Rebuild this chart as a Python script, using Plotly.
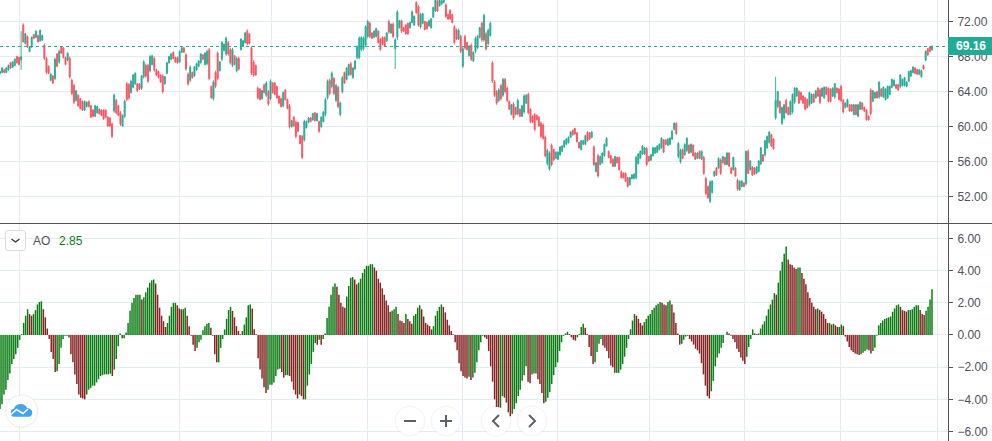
import plotly.graph_objects as go

# price bars
highs = [
    66.4, 66.8, 66.6, 66.8, 67.1, 67.4, 67.5, 67.8, 68.1, 68.0,
    70.9, 71.8, 70.7, 70.4, 69.2, 70.3, 70.6, 71.0, 70.5, 71.1,
    70.5, 69.5, 68.0, 67.0, 66.1, 65.9, 67.9, 68.4, 68.8, 69.2,
    69.1, 68.0, 68.5, 68.0, 65.5, 64.9, 64.2, 63.7, 63.3, 63.0,
    63.0, 62.9, 63.0, 62.5, 62.0, 62.5, 62.4, 62.1, 62.0, 62.0,
    62.0, 61.2, 61.1, 60.5, 63.8, 63.2, 62.5, 61.8, 61.4, 63.1,
    65.1, 65.0, 65.3, 66.0, 66.2, 65.0, 65.0, 65.9, 67.6, 67.2,
    67.2, 68.2, 68.2, 68.0, 66.6, 66.4, 66.0, 66.0, 65.8, 67.4,
    68.1, 68.4, 68.6, 68.0, 68.0, 68.7, 69.1, 69.1, 68.4, 66.2,
    67.0, 66.3, 66.9, 67.3, 67.6, 68.4, 68.3, 68.5, 68.8, 69.0,
    64.7, 65.3, 66.4, 68.6, 67.5, 69.8, 69.5, 70.3, 69.8, 69.0,
    69.0, 68.2, 68.0, 68.0, 70.1, 69.9, 70.8, 71.1, 70.7, 69.2,
    67.6, 67.1, 64.6, 64.4, 64.2, 64.9, 65.2, 64.2, 65.4, 65.1,
    65.1, 64.7, 63.6, 63.3, 64.0, 64.3, 63.2, 62.6, 60.8, 61.2,
    60.7, 60.6, 59.1, 59.1, 60.8, 60.7, 61.1, 61.1, 61.6, 61.7,
    61.6, 60.7, 61.2, 61.8, 63.3, 65.4, 65.5, 66.3, 65.7, 64.9,
    64.7, 62.9, 65.8, 66.3, 66.8, 67.2, 67.4, 66.8, 67.6, 69.3,
    70.3, 70.3, 70.3, 71.6, 72.2, 72.0, 70.8, 71.0, 71.3, 71.0,
    70.1, 70.3, 70.3, 70.8, 72.2, 71.8, 71.9, 70.1, 73.3, 72.2,
    72.2, 71.4, 71.7, 71.9, 72.0, 73.3, 72.7, 74.3, 73.9, 73.0,
    73.0, 72.1, 72.0, 72.2, 72.4, 73.7, 74.5, 74.5, 74.5, 74.5,
    74.5, 74.1, 72.9, 73.4, 72.9, 71.6, 71.2, 71.2, 70.5, 69.1,
    70.5, 69.7, 69.3, 69.5, 68.6, 70.3, 70.5, 71.4, 72.0, 72.9,
    70.8, 71.2, 72.0, 67.5, 65.3, 64.2, 64.4, 64.9, 65.6,
    65.6, 64.6, 63.0, 62.6, 62.8, 62.3, 63.2, 62.1, 62.5, 63.7,
    63.7, 63.9, 62.1, 61.3, 61.6, 61.4, 61.2, 60.6, 60.4,
    59.0, 57.5, 57.2, 58.1, 57.5, 57.2, 57.2, 57.8, 57.9,
    58.5, 58.7, 58.9, 59.5, 59.7, 59.9, 59.4, 58.3, 58.5,
    58.5, 59.1, 59.5, 59.4, 59.5, 57.9, 56.0, 56.9, 56.7, 57.1,
    58.1, 58.8, 57.3, 56.8, 56.4, 56.7, 56.6, 56.6, 55.0, 54.8,
    54.8, 54.3, 54.3, 54.6, 54.7, 56.7, 57.0, 57.3, 57.9, 57.7,
    57.7, 56.7, 56.9, 57.7, 57.7, 57.9, 58.1, 58.8, 58.6, 58.6,
    58.7, 58.8, 59.6, 60.5, 60.5, 58.3, 57.5, 57.5, 58.1, 58.8,
    58.0, 58.1, 58.0, 57.1, 57.1, 57.3, 57.3, 56.7, 54.3, 53.3,
    53.9, 53.9, 55.0, 55.4, 56.5, 56.4, 56.7, 56.6, 57.1, 57.1,
    55.4, 56.6, 55.4, 54.1, 53.9, 53.9, 53.7, 57.3, 57.4, 56.2,
    55.5, 55.4, 55.5, 56.2, 57.7, 56.9, 58.5, 59.0, 59.5, 59.2,
    58.7, 65.7, 64.1, 63.0, 62.3, 62.6, 63.2, 62.3, 63.0, 63.8,
    64.5, 64.5, 64.2, 64.0, 63.6, 63.4, 63.2, 64.0, 63.8, 63.8,
    64.2, 64.5, 64.4, 64.5, 64.6, 64.6, 64.5, 64.4, 64.5, 65.0, 64.5,
    64.4, 64.8, 63.2, 62.8, 63.2, 62.6, 62.6, 62.6, 62.6, 62.6, 62.9,
    62.8, 62.3, 62.0, 61.3, 64.4, 64.2, 64.0, 64.1, 65.2, 64.4,
    64.6, 64.4, 64.7, 64.7, 65.5, 65.4, 64.9, 64.9, 66.0, 65.5, 65.7,
    65.2, 66.4, 66.5, 66.9, 66.8, 66.6, 66.6, 66.5, 67.1, 68.7, 69.0,
    69.2, 69.3,
]
lows = [
    66.0, 66.1, 66.1, 66.1, 66.4, 66.6, 66.7, 66.9, 67.2, 67.0,
    66.5, 69.6, 69.4, 69.0, 68.5, 69.0, 70.0, 70.1, 69.6, 69.7,
    69.8, 67.6, 66.0, 66.0, 65.2, 64.9, 65.3, 66.8, 67.2, 68.3,
    67.8, 67.0, 67.5, 65.5, 63.6, 62.6, 62.9, 62.3, 62.0, 61.8,
    61.8, 62.2, 62.2, 61.0, 61.1, 61.1, 61.5, 61.4, 61.2, 60.8,
    61.0, 60.0, 60.0, 58.7, 61.6, 61.4, 61.2, 60.1, 60.0, 61.0,
    62.9, 63.1, 63.8, 64.4, 64.8, 64.0, 64.2, 64.2, 65.5, 65.6,
    65.0, 66.2, 67.0, 66.3, 65.8, 65.5, 65.0, 63.8, 64.8, 66.0,
    67.2, 67.6, 67.7, 67.3, 67.2, 67.3, 68.4, 68.4, 66.4, 64.7,
    65.1, 65.5, 65.7, 66.4, 66.8, 67.2, 67.6, 67.0, 67.0, 65.3,
    63.2, 63.0, 64.4, 65.3, 66.3, 67.5, 68.6, 68.1, 68.1, 67.1,
    66.8, 67.0, 66.2, 66.4, 68.7, 69.1, 69.5, 69.3, 69.4, 65.9,
    65.7, 65.8, 63.1, 63.0, 63.1, 63.8, 63.4, 62.4, 63.0, 63.8,
    63.6, 63.2, 62.6, 62.2, 62.2, 63.0, 62.0, 59.8, 59.9, 60.0,
    58.7, 59.4, 58.0, 56.3, 58.3, 59.8, 60.4, 60.5, 60.7, 60.6,
    60.6, 59.3, 59.9, 60.5, 61.2, 63.1, 63.6, 64.4, 63.6, 62.8,
    62.1, 61.2, 63.8, 64.9, 65.3, 65.8, 65.8, 65.5, 66.5, 67.7,
    67.7, 68.6, 68.7, 69.1, 70.1, 70.1, 70.0, 70.1, 70.2, 69.5,
    68.7, 69.3, 69.1, 69.7, 70.6, 70.6, 70.1, 66.6, 69.9, 71.2,
    70.7, 70.8, 70.5, 70.5, 71.2, 71.8, 71.5, 72.9, 71.4, 71.2,
    71.7, 71.0, 71.1, 71.4, 71.2, 72.4, 73.1, 73.1, 73.7, 73.9,
    74.1, 72.4, 72.2, 72.2, 71.8, 69.4, 69.9, 69.9, 68.4, 66.7,
    68.8, 68.7, 68.0, 67.5, 67.4, 68.4, 68.9, 70.1, 69.7, 69.7,
    68.7, 69.3, 70.3, 65.0, 63.4, 62.5, 62.8, 63.0, 63.4,
    63.8, 62.8, 61.9, 61.3, 60.8, 61.3, 61.3, 61.1, 61.1, 61.5,
    62.6, 61.4, 60.4, 60.4, 59.5, 60.7, 60.0, 58.7, 58.5,
    56.5, 55.6, 55.0, 55.5, 56.1, 56.3, 56.2, 56.7, 57.1,
    57.6, 57.9, 58.1, 58.7, 59.0, 59.1, 58.2, 57.5, 57.3,
    57.9, 57.9, 58.3, 58.5, 58.7, 55.5, 54.8, 54.2, 55.6, 55.8,
    56.6, 57.7, 56.4, 55.8, 55.4, 55.4, 55.8, 55.0, 54.1, 54.1,
    53.7, 53.1, 53.3, 54.0, 54.0, 54.0, 55.7, 56.3, 56.8, 56.8,
    55.5, 56.0, 56.1, 56.6, 56.9, 57.0, 57.3, 57.5, 57.0, 57.9,
    57.8, 57.9, 58.5, 59.6, 59.1, 56.4, 55.8, 56.3, 56.7, 57.1,
    56.9, 57.0, 56.6, 56.2, 56.3, 56.3, 56.2, 54.5, 52.2, 51.8,
    51.3, 52.4, 54.3, 54.4, 55.2, 54.5, 55.8, 55.6, 55.6, 55.4,
    54.6, 55.0, 54.3, 52.7, 52.7, 53.1, 53.1, 53.3, 54.6, 55.0,
    54.4, 54.5, 54.6, 54.8, 55.6, 56.0, 56.6, 57.5, 58.1, 57.7,
    57.4, 60.8, 62.1, 61.5, 60.2, 60.8, 61.5, 61.3, 61.3, 61.5,
    62.6, 63.4, 62.6, 63.0, 62.6, 61.9, 62.1, 62.3, 62.6, 62.7,
    63.2, 63.4, 62.6, 63.4, 63.2, 63.6, 62.8, 62.8, 63.4, 63.2, 63.8,
    63.0, 62.8, 61.5, 62.1, 62.2, 61.7, 61.7, 61.3, 61.3, 61.1, 61.9,
    61.9, 61.7, 60.7, 60.7, 61.3, 62.8, 63.2, 63.2, 63.2, 63.4,
    63.3, 63.0, 63.2, 63.6, 64.4, 64.6, 64.3, 64.1, 64.4, 64.6, 64.6,
    64.5, 65.1, 65.7, 66.1, 66.0, 65.9, 65.9, 65.6, 66.5, 67.5, 68.1,
    68.5, 68.7,
]
opens = [
    66.1, 66.2, 66.5, 66.2, 66.5, 67.3, 66.8, 67.0, 68.0, 67.9,
    67.6, 71.6, 69.5, 70.3, 68.6, 69.1, 70.5, 70.2, 70.4, 69.8,
    69.9, 69.3, 67.8, 66.9, 65.3, 65.8, 65.5, 68.3, 67.4, 69.1,
    69.0, 67.9, 67.6, 67.8, 65.3, 64.7, 63.0, 63.6, 63.2, 62.9,
    61.9, 62.3, 62.9, 62.4, 61.9, 61.2, 61.6, 62.0, 61.9, 61.9,
    61.9, 61.1, 61.0, 60.3, 61.8, 63.0, 62.4, 61.6, 60.1, 61.2,
    64.9, 64.8, 63.9, 64.5, 64.9, 64.9, 64.9, 64.4, 65.7, 67.0,
    67.0, 66.4, 67.1, 67.8, 66.5, 66.3, 65.9, 65.8, 64.9, 66.1,
    67.3, 67.7, 68.5, 67.9, 67.9, 67.4, 68.5, 69.0, 68.2, 66.0,
    65.3, 66.2, 65.8, 66.5, 66.9, 67.3, 68.2, 67.1, 67.2, 68.8,
    64.6, 63.2, 66.2, 68.4, 66.4, 67.7, 68.7, 68.3, 69.6, 68.8,
    67.0, 68.1, 66.4, 67.8, 68.8, 69.2, 69.6, 70.9, 70.6, 69.0,
    67.4, 67.0, 64.4, 64.3, 63.2, 64.8, 63.6, 64.0, 63.2, 65.0,
    65.0, 64.6, 63.5, 63.2, 62.4, 64.2, 63.1, 62.4, 60.0, 61.1,
    60.5, 60.5, 59.0, 58.9, 58.5, 59.9, 60.5, 61.0, 60.8, 61.6,
    60.7, 60.6, 60.0, 60.6, 61.4, 63.3, 65.3, 64.6, 65.5, 63.0,
    64.5, 61.4, 64.0, 66.2, 65.4, 65.9, 67.2, 65.6, 66.6, 67.9,
    67.9, 68.8, 68.9, 69.3, 70.3, 71.8, 70.7, 70.2, 70.3, 70.9,
    70.0, 70.2, 70.2, 69.8, 72.0, 70.7, 71.7, 68.9, 70.2, 71.3,
    72.1, 71.3, 71.6, 71.8, 71.3, 71.9, 71.6, 74.2, 73.7, 71.4,
    71.8, 72.0, 71.9, 71.5, 71.3, 72.5, 73.2, 74.4, 73.8, 74.0,
    74.2, 73.9, 72.8, 73.3, 72.8, 71.4, 71.1, 70.0, 70.3, 66.9,
    70.3, 69.6, 68.1, 69.3, 67.5, 68.6, 69.0, 70.2, 71.8, 69.9,
    70.6, 69.5, 70.4, 67.3, 65.1, 64.0, 63.0, 64.7, 63.6,
    65.4, 64.4, 62.9, 61.4, 62.6, 62.2, 61.5, 62.0, 61.2, 61.7,
    62.7, 63.7, 62.0, 61.2, 61.4, 61.3, 61.1, 60.4, 60.2,
    58.8, 55.8, 55.2, 57.9, 57.4, 56.4, 56.3, 56.8, 57.2,
    57.7, 58.0, 58.2, 58.8, 59.6, 59.8, 59.3, 58.2, 57.4,
    58.0, 58.0, 59.4, 59.3, 58.8, 57.7, 54.9, 56.7, 55.7, 55.9,
    56.7, 57.8, 57.2, 56.7, 56.3, 55.5, 56.5, 56.5, 54.9, 54.7,
    54.7, 54.2, 53.4, 54.1, 54.1, 54.2, 55.8, 56.4, 56.9, 56.9,
    57.5, 56.6, 56.2, 56.7, 57.0, 57.1, 57.4, 57.6, 58.5, 58.5,
    57.9, 58.0, 58.6, 59.7, 60.4, 56.6, 56.0, 57.4, 56.8, 57.3,
    57.9, 57.1, 57.9, 57.0, 56.4, 57.2, 56.3, 56.5, 54.1, 53.2,
    51.5, 52.5, 54.4, 55.3, 55.3, 56.2, 55.9, 56.5, 55.7, 57.0,
    55.3, 55.1, 55.3, 53.9, 52.8, 53.2, 53.6, 53.5, 57.2, 55.1,
    55.4, 55.3, 54.7, 54.9, 55.8, 56.8, 56.8, 57.6, 58.2, 59.1,
    58.6, 61.0, 62.3, 62.9, 60.4, 61.0, 63.0, 62.2, 61.4, 61.7,
    62.8, 63.5, 64.0, 63.9, 63.5, 63.3, 63.1, 62.5, 62.7, 63.7,
    63.3, 64.4, 64.2, 63.5, 63.3, 64.5, 64.4, 64.3, 63.5, 63.4, 64.4,
    64.3, 64.6, 63.0, 62.2, 62.3, 62.5, 62.5, 61.4, 62.5, 61.2, 62.0,
    62.7, 62.2, 61.9, 61.2, 64.2, 62.9, 63.3, 64.0, 63.4, 64.3,
    63.4, 63.1, 63.3, 63.7, 64.5, 64.7, 64.8, 64.8, 64.6, 64.7, 64.7,
    64.6, 65.2, 65.8, 66.2, 66.7, 66.5, 66.0, 65.7, 67.0, 67.6, 68.9,
    69.1, 68.8,
]
closes = [
    66.3, 66.7, 66.2, 66.7, 67.0, 66.7, 67.4, 67.7, 67.3, 67.1,
    68.0, 69.7, 70.6, 69.1, 69.1, 70.2, 70.1, 70.9, 69.7, 71.0,
    70.4, 67.8, 66.2, 66.1, 66.0, 65.0, 67.7, 66.9, 68.6, 68.4,
    67.9, 67.1, 68.4, 65.7, 63.8, 62.8, 64.1, 62.4, 62.1, 61.9,
    62.9, 62.8, 62.3, 61.1, 61.2, 62.4, 62.3, 61.5, 61.3, 60.9,
    61.1, 60.1, 60.1, 58.9, 63.6, 61.6, 61.3, 60.3, 61.3, 62.9,
    63.1, 63.3, 65.2, 65.9, 66.1, 64.1, 64.3, 65.8, 67.4, 65.8,
    65.2, 68.0, 68.1, 66.5, 65.9, 65.6, 65.1, 64.0, 65.7, 67.3,
    68.0, 68.3, 67.8, 67.4, 67.3, 68.6, 69.0, 68.5, 66.6, 64.9,
    66.8, 65.6, 66.8, 67.2, 67.5, 68.3, 67.7, 68.4, 68.6, 65.5,
    63.3, 65.1, 64.6, 65.5, 67.4, 69.6, 69.4, 70.1, 68.3, 67.3,
    68.8, 67.1, 67.8, 66.6, 70.0, 69.8, 70.7, 69.5, 69.5, 66.1,
    65.9, 65.9, 63.3, 63.1, 64.1, 63.9, 65.0, 62.6, 65.2, 63.9,
    63.7, 63.3, 62.7, 62.3, 63.9, 63.1, 62.1, 60.0, 60.7, 60.1,
    58.9, 59.5, 58.1, 56.5, 60.6, 60.6, 61.0, 60.6, 61.5, 60.7,
    61.5, 59.5, 61.1, 61.7, 63.1, 65.2, 63.8, 66.1, 63.8, 64.7,
    62.3, 62.7, 65.6, 65.0, 66.7, 67.1, 66.0, 66.7, 67.5, 69.1,
    70.1, 70.2, 70.1, 71.4, 72.0, 70.3, 70.1, 70.9, 71.2, 69.6,
    68.8, 69.4, 69.2, 70.7, 70.8, 71.7, 70.3, 69.9, 73.1, 72.1,
    70.9, 70.9, 70.6, 70.6, 71.9, 73.1, 72.6, 73.0, 71.6, 72.8,
    72.9, 71.1, 71.2, 72.1, 72.3, 73.6, 74.4, 73.2, 74.4, 74.4,
    74.4, 72.6, 72.3, 72.3, 71.9, 69.6, 70.0, 71.0, 68.6, 68.9,
    69.0, 68.8, 69.2, 67.7, 68.5, 70.1, 70.3, 71.3, 69.9, 72.7,
    68.9, 71.0, 71.8, 65.2, 63.6, 62.7, 64.2, 63.2, 65.4,
    64.0, 63.0, 62.0, 62.5, 61.0, 61.4, 63.0, 61.2, 62.4, 63.5,
    63.6, 61.6, 60.6, 60.5, 59.7, 60.8, 60.1, 58.9, 58.7,
    56.7, 57.3, 57.0, 55.7, 56.2, 57.1, 57.1, 57.7, 57.8,
    58.4, 58.6, 58.8, 59.4, 59.1, 59.2, 58.3, 57.6, 58.4,
    58.4, 59.0, 58.4, 58.6, 59.4, 55.7, 55.9, 54.4, 56.6, 57.0,
    58.0, 58.7, 56.5, 55.9, 55.5, 56.6, 55.9, 55.1, 54.2, 54.2,
    53.8, 53.2, 54.2, 54.5, 54.6, 56.5, 56.9, 57.2, 57.8, 57.6,
    55.7, 56.1, 56.8, 57.6, 57.6, 57.8, 58.0, 58.7, 57.1, 58.0,
    58.6, 58.7, 59.5, 60.4, 59.2, 58.1, 57.3, 56.4, 58.0, 58.7,
    57.0, 58.0, 56.7, 56.3, 57.0, 56.4, 57.2, 54.7, 52.4, 51.9,
    53.7, 53.8, 54.9, 54.5, 56.4, 54.7, 56.6, 55.7, 57.0, 55.5,
    54.7, 56.5, 54.4, 52.9, 53.8, 53.8, 53.2, 57.2, 54.7, 56.1,
    54.5, 54.6, 55.4, 56.1, 57.6, 56.1, 58.4, 58.9, 59.4, 57.8,
    57.5, 63.0, 64.0, 61.6, 62.2, 62.5, 61.6, 61.4, 62.9, 63.7,
    64.4, 64.4, 62.7, 63.1, 62.7, 62.0, 62.2, 63.9, 63.7, 62.8,
    64.1, 63.5, 62.8, 64.4, 64.5, 63.7, 62.9, 62.9, 64.4, 64.9, 63.9,
    63.1, 63.0, 61.7, 62.7, 63.1, 61.8, 61.8, 62.5, 61.4, 62.5, 62.8,
    62.0, 61.8, 60.8, 60.8, 61.5, 64.1, 63.9, 63.3, 65.1, 63.5,
    64.5, 64.3, 64.6, 64.6, 65.4, 65.3, 64.4, 64.2, 65.9, 65.4, 65.6,
    65.1, 66.3, 66.4, 66.8, 66.1, 66.0, 66.5, 66.4, 66.6, 68.6, 68.2,
    68.6, 69.16,
]

# awesome oscillator
ao_values = [
    -4.6, -4.3, -3.7, -3.4, -2.8, -2.4, -1.8, -1.5, -1.2, -0.8, -0.3,
    0.05, 0.75, 1.2, 1.6, 1.3, 1.2, 1.3, 1.55, 1.9, 2.05, 2.1, 1.6, 1.1, 0.4,
    -0.25, -1.05, -1.5, -2.3, -2.25, -1.8, -0.8, -0.25, -0.05, -0.05, -0.15,
    -1.2, -1.7, -2.45, -3.05, -3.7, -3.9, -3.95, -4.0, -3.7, -3.4, -3.3, -3.15,
    -3.15, -2.95, -2.75, -2.55, -2.5, -2.45, -2.45, -2.45, -2.4, -2.55, -2.15,
    -1.5, -0.7, 0.1, -0.2, -0.2, 0.15, 0.75, 1.5, 2.0, 2.3, 2.5, 2.5, 2.5, 2.2,
    2.35, 2.65, 2.95, 3.25, 3.4, 3.45, 3.2, 2.5, 1.7, 1.2, 0.85, 0.5, 0.75, 1.2,
    1.75, 2.0, 2.0, 1.85, 1.65, 1.6, 1.6, 1.7, 1.2, 0.55, -0.05, -0.6, -1.0,
    -0.8, -0.45, -0.3, 0.3, 0.55, 0.7, 0.75, 0.45, -0.05, -1.2, -1.7, -1.7, -0.8,
    -0.25, 0.35, 1.0, 1.55, 1.75, 1.5, 1.1, 0.55, 0.25, 0.05, 0.25, 0.65, 1.1,
    1.85, 1.9, 1.65, 0.35, 0.05, -1.45, -2.15, -2.7, -3.25, -3.6, -3.4, -3.1,
    -3.1, -2.95, -2.55, -2.15, -2.1, -2.3, -2.65, -2.5, -2.5, -2.55, -2.9, -3.4,
    -3.7, -3.95, -3.7, -3.8, -4.0, -4.0, -3.15, -2.45, -1.8, -1.05, -0.5, -0.6,
    -0.3, -0.6, -0.25, 0.1,
    1.05, 1.75, 2.5, 3.0, 3.2, 3.0, 2.5, 2.0, 1.75, 1.7, 2.4, 3.05, 3.55,
    3.6, 3.45, 3.15, 3.25, 3.5, 3.85, 4.1, 4.3, 4.3, 4.4, 4.4, 4.2, 4.0,
    3.5, 3.25, 2.9, 2.5, 2.15, 1.85, 1.45, 1.5, 1.6, 1.75, 1.3, 0.9, 0.85,
    0.75, 1.3, 1.0, 0.85, 0.7, 1.2, 1.3, 1.7, 1.85, 1.6, 1.15, 0.75,
    0.65, 0.55, 0.35, 0.55, 1.2, 1.5, 1.75, 1.9, 1.75, 1.4, 0.95, 0.6,
    0.25, 0.05, -0.45, -0.95, -1.75, -2.25, -2.55, -2.65, -2.7, -2.6,
    -2.8, -2.65, -2.35, -1.7, -0.95, -0.45, -0.05, -0.15, -0.25, -1.0,
    -1.95, -2.9, -4.0, -4.5, -5.05, -4.6, -3.8, -3.9, -4.2, -4.8, -5.05, -4.9,
    -4.6, -4.25, -3.8, -3.4, -2.85, -2.5, -1.95, -2.9, -3.0, -2.45, -2.4,
    -2.4, -2.75, -3.05, -3.6, -4.25, -4.15, -3.9, -3.55, -3.05, -2.5,
    -2.0, -1.7, -1.0, -0.45, -0.05, 0.1, 0.2, 0.05, -0.15, -0.3, -0.35,
    -0.15, 0.05, 0.5, 0.7, 0.45, 0.05, -0.75, -1.3, -1.8, -1.7, -1.05, -0.55,
    -0.25, -0.65, -0.8, -1.0, -1.45, -1.9, -2.0, -2.35, -2.35,
    -2.35, -2.15, -1.8, -1.35, -0.8, -0.25, 0.35, 0.9, 1.3, 1.2, 1.0, 0.75, 0.6,
    0.8, 1.0,
    1.2, 1.3, 1.55, 1.7, 1.85, 1.95, 2.05, 2.0, 1.9, 1.85, 2.05, 2.15, 1.9,
    1.4, 0.75, 0.1, -0.6, -0.55, -0.3, -0.1, -0.05, -0.25, -0.4, -0.6,
    -0.85, -0.95, -1.15, -1.75, -2.45, -3.15, -3.8, -3.95, -3.5, -2.85, -1.95,
    -1.4, -1.15, -0.8, -0.5, 0.0, 0.2, 0.1, -0.05, -0.25, -0.45, -0.85, -1.05,
    -1.4, -1.6, -1.8, -1.35, -0.75, -0.25, 0.35, 0.1, 0.05, 0.1, 0.4, 0.65,
    0.85, 1.2, 1.6, 1.9, 2.2, 2.6, 2.5, 3.25, 4.0, 4.55, 5.05, 5.5, 4.7, 4.4,
    4.35, 4.2, 4.1, 4.2, 4.2, 3.85, 3.5, 3.15, 2.65, 2.3, 2.0, 1.75, 1.6,
    1.65, 1.55, 1.45, 1.3, 1.0, 0.75, 0.75, 0.65, 0.7, 0.6, 0.5, 0.5,
    0.65, 0.55, -0.1, -0.4, -0.75, -0.95, -1.05, -1.15, -1.2, -1.25, -1.2,
    -1.1, -1.0, -0.9, -0.95, -1.15, -1.0, -0.8, -0.05, 0.6, 0.75, 0.9, 1.0, 1.05,
    1.1, 1.15, 1.45, 1.65, 1.85, 1.9, 1.75, 1.55, 1.5, 1.45, 1.55, 1.55, 1.6,
    1.75, 1.85, 1.85, 1.55, 1.3, 1.25, 1.5, 1.75, 2.2, 2.85,
]

price_ticks = [52, 56, 60, 64, 68, 72]
ao_ticks = [-6, -4, -2, 0, 2, 4, 6]
last_price = 69.16

teal = "#22ab94"
red = "#f7525f"
ao_green = "#0a7e14"
ao_red = "#872323"
grid = "#e3ecf3"
axis_dark = "#50535e"
label_font = "Liberation Sans"

W, H = 992, 441


# page pixels to paper fractions, overlay items are easier to place this way
def px(x):
    return x / W


def py(y):
    return 1 - y / H


def pane_index(pixel, count):
    return pixel * (count - 1) / 932


month_lines = [19.3, 179.3, 271.3, 367.3, 462.3, 557.7, 649.3, 744.3, 840.5, 937.3]
n_bars = len(closes)
n_ao = len(ao_values)

# histogram as thin vertical strokes, go.Bar snaps sub 2px bars to whole pixels
up_x, up_y, down_x, down_y = [], [], [], []
for i, v in enumerate(ao_values):
    if i == 0 or v >= ao_values[i - 1]:
        up_x += [i, i, None]
        up_y += [0, v, None]
    else:
        down_x += [i, i, None]
        down_y += [0, v, None]

fig = go.Figure()
fig.add_trace(go.Candlestick(
    x=list(range(n_bars)), open=opens, high=highs, low=lows, close=closes,
    increasing=dict(line=dict(color=teal, width=0.9), fillcolor=teal),
    decreasing=dict(line=dict(color=red, width=0.9), fillcolor=red),
    whiskerwidth=0, xaxis="x", yaxis="y", showlegend=False,
))
fig.add_trace(go.Scatter(x=up_x, y=up_y, mode="lines", line=dict(color=ao_green, width=1.5),
                         xaxis="x2", yaxis="y2", showlegend=False))
fig.add_trace(go.Scatter(x=down_x, y=down_y, mode="lines", line=dict(color=ao_red, width=1.5),
                         xaxis="x2", yaxis="y2", showlegend=False))

x_common = dict(showticklabels=False, showgrid=True, gridcolor=grid, gridwidth=1,
                zeroline=False, ticks="", fixedrange=True)
y_common = dict(side="right", showgrid=True, gridcolor=grid, gridwidth=1, zeroline=False,
                showline=True, linecolor=axis_dark, ticks="outside", ticklen=4,
                tickcolor=axis_dark, ticklabelstandoff=2,
                tickfont=dict(family=label_font, size=12, color=axis_dark))

shapes = [
    # last price line and its tag
    dict(type="line", xref="paper", yref="y", x0=0, x1=px(948), y0=last_price, y1=last_price,
         line=dict(color=teal, width=1, dash="dot")),
    dict(type="line", xref="paper", yref="paper", x0=0, x1=1, y0=py(223.5), y1=py(223.5),
         line=dict(color=axis_dark, width=1)),
    dict(type="rect", xref="paper", yref="paper", x0=px(948), x1=1, y0=py(37), y1=py(55),
         fillcolor=teal, line=dict(width=0)),
    # indicator legend button
    dict(type="path", xref="paper", yref="paper",
         path=f"M {px(8)} {py(230.5)} L {px(23)} {py(230.5)} Q {px(25.5)} {py(230.5)} {px(25.5)} {py(233)} "
              f"L {px(25.5)} {py(248)} Q {px(25.5)} {py(250.5)} {px(23)} {py(250.5)} L {px(8)} {py(250.5)} "
              f"Q {px(5.5)} {py(250.5)} {px(5.5)} {py(248)} L {px(5.5)} {py(233)} Q {px(5.5)} {py(230.5)} {px(8)} {py(230.5)} Z",
         fillcolor="white", line=dict(color="#dcdde0", width=1)),
    dict(type="path", xref="paper", yref="paper",
         path=f"M {px(11.5)} {py(239)} L {px(15.5)} {py(242)} L {px(19.5)} {py(239)}",
         line=dict(color="#2a2e39", width=1.3)),
]


def circle(cx, cy, r, fill, line_color="rgba(0,0,0,0)"):
    return dict(type="circle", xref="paper", yref="paper",
                x0=px(cx - r), x1=px(cx + r), y0=py(cy - r), y1=py(cy + r),
                fillcolor=fill, line=dict(color=line_color, width=1))


# logo
shapes.append(circle(21.7, 411, 17, "rgba(120,123,134,0.06)"))
shapes.append(circle(21.7, 411, 16, "white", "#eeeeef"))
shapes.append(dict(type="path", xref="paper", yref="paper",
                   path=f"M {px(14)} {py(416.8)} Q {px(10.5)} {py(416.5)} {px(10.8)} {py(412.5)} "
                        f"Q {px(11)} {py(409)} {px(14)} {py(408.6)} Q {px(15.5)} {py(404)} {px(21)} {py(404)} "
                        f"Q {px(25.5)} {py(404)} {px(27)} {py(408)} Q {px(32)} {py(408.5)} {px(32.3)} {py(412.5)} "
                        f"Q {px(32.3)} {py(416.5)} {px(28.5)} {py(416.8)} Z",
                   fillcolor="#42a5f0", line=dict(width=0)))
shapes.append(dict(type="path", xref="paper", yref="paper",
                   path=f"M {px(11)} {py(414.5)} L {px(16.5)} {py(409.5)} L {px(23)} {py(413.5)} L {px(28)} {py(409)}",
                   line=dict(color="white", width=1.6)))

# navigation buttons under the chart
for cx in [410, 446, 496, 532]:
    shapes.append(circle(cx, 421, 15.5, "rgba(120,123,134,0.07)"))
    shapes.append(circle(cx, 421, 14, "white"))
icon = dict(color="#5d606b", width=2)
shapes.append(dict(type="line", xref="paper", yref="paper", x0=px(404), x1=px(416), y0=py(421), y1=py(421), line=icon))
shapes.append(dict(type="line", xref="paper", yref="paper", x0=px(440), x1=px(452), y0=py(421), y1=py(421), line=icon))
shapes.append(dict(type="line", xref="paper", yref="paper", x0=px(446), x1=px(446), y0=py(415), y1=py(427), line=icon))
shapes.append(dict(type="path", xref="paper", yref="paper",
                   path=f"M {px(499)} {py(415)} L {px(493)} {py(421)} L {px(499)} {py(427)}", line=icon))
shapes.append(dict(type="path", xref="paper", yref="paper",
                   path=f"M {px(529)} {py(415)} L {px(535)} {py(421)} L {px(529)} {py(427)}", line=icon))

text_pos = dict(xref="paper", yref="paper", xanchor="center", yanchor="middle", showarrow=False)
annotations = [
    dict(x=px(971), y=py(46), text=f"<b>{last_price:.2f}</b>",
         font=dict(family=label_font, size=12, color="white"), **text_pos),
    dict(x=px(41), y=py(241), text="AO", font=dict(family=label_font, size=12, color=axis_dark), **text_pos),
    dict(x=px(71), y=py(241), text=f"{ao_values[-1]:.2f}", font=dict(family=label_font, size=12, color=ao_green), **text_pos),
]

fig.update_layout(
    width=W, height=H, margin=dict(l=0, r=0, t=0, b=0),
    paper_bgcolor="white", plot_bgcolor="white", hovermode=False,
    xaxis=dict(domain=[0, 948 / W], range=[0, pane_index(948, n_bars)], anchor="y", rangeslider=dict(visible=False),
               tickmode="array", tickvals=[pane_index(p, n_bars) for p in month_lines], **x_common),
    xaxis2=dict(domain=[0, 948 / W], range=[0, pane_index(948, n_ao)], anchor="y2",
                tickmode="array", tickvals=[pane_index(p, n_ao) for p in month_lines], **x_common),
    yaxis=dict(domain=[py(223.5), 1], range=[48.97, 74.46], anchor="x", tickmode="array", tickvals=price_ticks,
               ticktext=[f"{v:.2f}" for v in price_ticks], **y_common),
    yaxis2=dict(domain=[0, py(224)], range=[-6.59, 6.9], anchor="x2", tickmode="array", tickvals=ao_ticks,
                ticktext=[f"{v:.2f}".replace("-", "\u2212") for v in ao_ticks], **y_common),
    shapes=shapes, annotations=annotations,
)

# page has a default body margin, the chart has to start at the window corner
fig.write_html("out.html", config=dict(displayModeBar=False),
               post_script="document.body.style.margin='0';document.body.style.overflow='hidden';")
